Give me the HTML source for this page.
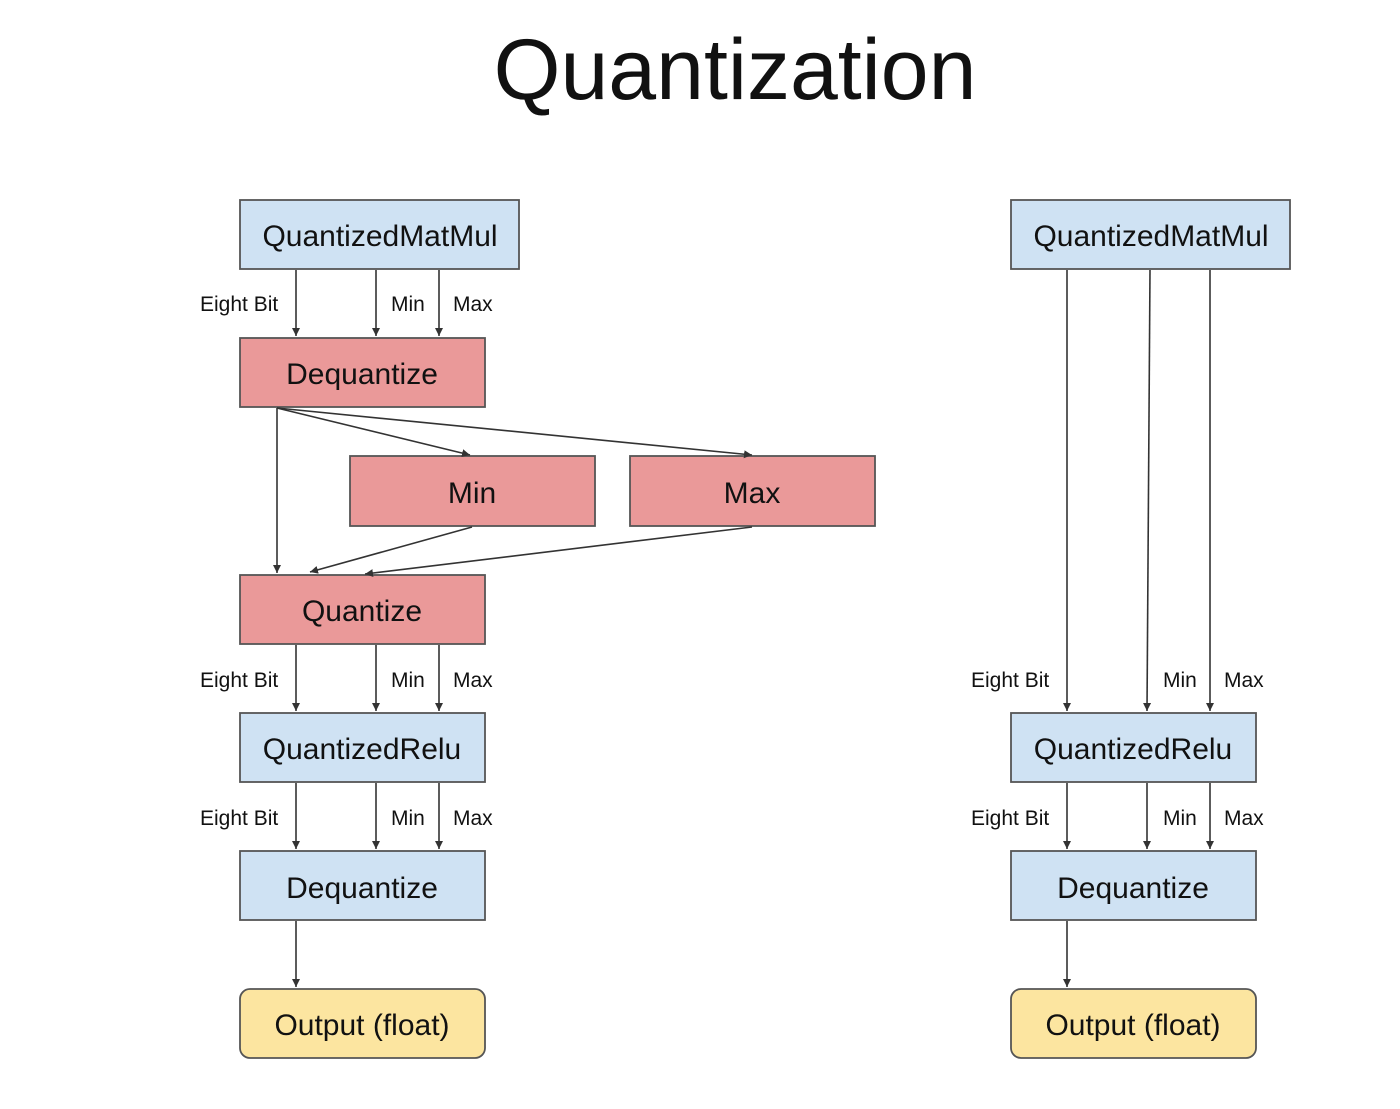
<!DOCTYPE html>
<html><head><meta charset="utf-8"><style>
html,body{margin:0;padding:0;background:#fff;}
svg{display:block;}
text{font-family:"Liberation Sans",sans-serif;fill:#111;}
.box{stroke:#555;stroke-width:1.8;}
.lbl{font-size:30px;text-anchor:middle;}
.sm{font-size:21px;}
.ar{stroke:#333;stroke-width:1.6;fill:none;marker-end:url(#ah);}
</style></head><body>
<svg width="1400" height="1109" viewBox="0 0 1400 1109">
<defs><marker id="ah" markerWidth="8" markerHeight="10" refX="8" refY="4" orient="auto" markerUnits="userSpaceOnUse"><path d="M0,0 L8,4 L0,8 z" fill="#333"/></marker></defs>
<text x="735" y="99" style="font-size:86px;text-anchor:middle">Quantization</text>

<g>
<rect class="box" x="240" y="200" width="279" height="69" fill="#cfe2f3"/>
<text class="lbl" x="380" y="246">QuantizedMatMul</text>
<rect class="box" x="240" y="338" width="245" height="69" fill="#ea9999"/>
<text class="lbl" x="362" y="384">Dequantize</text>
<rect class="box" x="350" y="456" width="245" height="70" fill="#ea9999"/>
<text class="lbl" x="472" y="503">Min</text>
<rect class="box" x="630" y="456" width="245" height="70" fill="#ea9999"/>
<text class="lbl" x="752" y="503">Max</text>
<rect class="box" x="240" y="575" width="245" height="69" fill="#ea9999"/>
<text class="lbl" x="362" y="621">Quantize</text>
<rect class="box" x="240" y="713" width="245" height="69" fill="#cfe2f3"/>
<text class="lbl" x="362" y="759">QuantizedRelu</text>
<rect class="box" x="240" y="851" width="245" height="69" fill="#cfe2f3"/>
<text class="lbl" x="362" y="898">Dequantize</text>
<rect class="box" x="240" y="989" width="245" height="69" rx="10" fill="#fce5a0"/>
<text class="lbl" x="362" y="1035">Output (float)</text>

<line class="ar" x1="296" y1="270" x2="296" y2="336"/>
<line class="ar" x1="376" y1="270" x2="376" y2="336"/>
<line class="ar" x1="439" y1="270" x2="439" y2="336"/>
<text class="sm" x="200" y="311">Eight Bit</text><text class="sm" x="391" y="311">Min</text><text class="sm" x="453" y="311">Max</text>

<line class="ar" x1="277" y1="408" x2="277" y2="573"/>
<line class="ar" x1="277" y1="408" x2="470" y2="455"/>
<line class="ar" x1="277" y1="408" x2="752" y2="455"/>
<line class="ar" x1="472" y1="527" x2="310" y2="572"/>
<line class="ar" x1="752" y1="527" x2="365" y2="574"/>

<line class="ar" x1="296" y1="645" x2="296" y2="711"/>
<line class="ar" x1="376" y1="645" x2="376" y2="711"/>
<line class="ar" x1="439" y1="645" x2="439" y2="711"/>
<text class="sm" x="200" y="687">Eight Bit</text><text class="sm" x="391" y="687">Min</text><text class="sm" x="453" y="687">Max</text>

<line class="ar" x1="296" y1="783" x2="296" y2="849"/>
<line class="ar" x1="376" y1="783" x2="376" y2="849"/>
<line class="ar" x1="439" y1="783" x2="439" y2="849"/>
<text class="sm" x="200" y="825">Eight Bit</text><text class="sm" x="391" y="825">Min</text><text class="sm" x="453" y="825">Max</text>

<line class="ar" x1="296" y1="921" x2="296" y2="987"/>
</g>

<g>
<rect class="box" x="1011" y="200" width="279" height="69" fill="#cfe2f3"/>
<text class="lbl" x="1151" y="246">QuantizedMatMul</text>
<rect class="box" x="1011" y="713" width="245" height="69" fill="#cfe2f3"/>
<text class="lbl" x="1133" y="759">QuantizedRelu</text>
<rect class="box" x="1011" y="851" width="245" height="69" fill="#cfe2f3"/>
<text class="lbl" x="1133" y="898">Dequantize</text>
<rect class="box" x="1011" y="989" width="245" height="69" rx="10" fill="#fce5a0"/>
<text class="lbl" x="1133" y="1035">Output (float)</text>

<line class="ar" x1="1067" y1="270" x2="1067" y2="711"/>
<line class="ar" x1="1150" y1="270" x2="1147" y2="711"/>
<line class="ar" x1="1210" y1="270" x2="1210" y2="711"/>
<text class="sm" x="971" y="687">Eight Bit</text><text class="sm" x="1163" y="687">Min</text><text class="sm" x="1224" y="687">Max</text>

<line class="ar" x1="1067" y1="783" x2="1067" y2="849"/>
<line class="ar" x1="1147" y1="783" x2="1147" y2="849"/>
<line class="ar" x1="1210" y1="783" x2="1210" y2="849"/>
<text class="sm" x="971" y="825">Eight Bit</text><text class="sm" x="1163" y="825">Min</text><text class="sm" x="1224" y="825">Max</text>

<line class="ar" x1="1067" y1="921" x2="1067" y2="987"/>
</g>
</svg>
</body></html>
